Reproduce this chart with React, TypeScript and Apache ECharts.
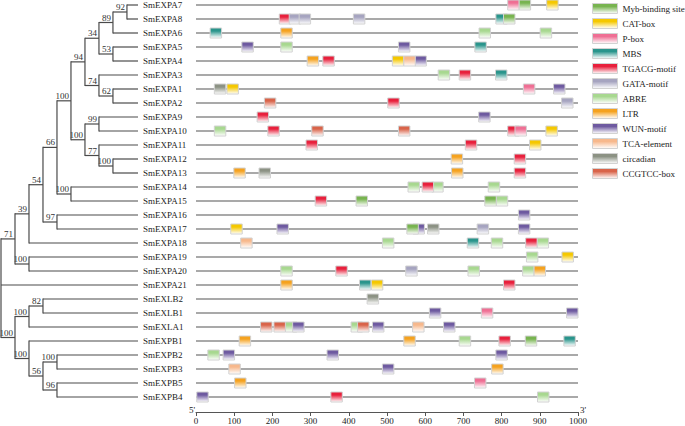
import React, { useEffect, useRef } from "react";
import * as echarts from "echarts";

const FONT = "'Liberation Serif', 'Times New Roman', serif";

// Phylogenetic tree (Newick, bootstrap values on internal nodes)
const treeNewick =
  "((((((((((SmEXPA7,SmEXPA8)92,SmEXPA6)89,(SmEXPA5,SmEXPA4)53)34,(SmEXPA3,(SmEXPA1,SmEXPA2)62)74)94," +
  "((SmEXPA9,SmEXPA10)99,(SmEXPA11,(SmEXPA12,SmEXPA13)100)77)100)100,(SmEXPA14,SmEXPA15)100)66," +
  "(SmEXPA16,SmEXPA17)97)54,SmEXPA18)39,(SmEXPA19,SmEXPA20)100)71,SmEXPA21," +
  "(((SmEXLB2,SmEXLB1)82,SmEXLA1)100,(SmEXPB1,((SmEXPB2,SmEXPB3)100,(SmEXPB5,SmEXPB4)96)56)100)100);";

const genes = [
  "SmEXPA7", "SmEXPA8", "SmEXPA6", "SmEXPA5", "SmEXPA4", "SmEXPA3", "SmEXPA1", "SmEXPA2",
  "SmEXPA9", "SmEXPA10", "SmEXPA11", "SmEXPA12", "SmEXPA13", "SmEXPA14", "SmEXPA15",
  "SmEXPA16", "SmEXPA17", "SmEXPA18", "SmEXPA19", "SmEXPA20", "SmEXPA21", "SmEXLB2",
  "SmEXLB1", "SmEXLA1", "SmEXPB1", "SmEXPB2", "SmEXPB3", "SmEXPB5", "SmEXPB4",
];

const geneLengths = [
  1000, 1000, 1000, 1000, 1000, 1000, 1000, 1000, 1000, 1000, 1000, 1000, 1000, 1000, 1000,
  1000, 1000, 1000, 1000, 1000, 1000, 1000, 1000, 1000, 1000, 1000, 1000, 1000, 1000,
];

const motifs = [
  "Myb-binding site", "CAT-box", "P-box", "MBS", "TGACG-motif", "GATA-motif",
  "ABRE", "LTR", "WUN-motif", "TCA-element", "circadian", "CCGTCC-box",
];
const motifColors = [
  "#78b450", "#f5c800", "#ef6f94", "#2a958c", "#e8203c", "#a6a4c0",
  "#a8d890", "#f5a21f", "#6e5aa0", "#f7b88c", "#8c9284", "#d9644a",
];

// [gene, start position]
const mybSites: [string, number][] = [
  ["SmEXPA7", 846], ["SmEXPA8", 805], ["SmEXPA15", 419], ["SmEXPA15", 756], ["SmEXPA17", 552], ["SmEXPB1", 862],
];
const catSites: [string, number][] = [
  ["SmEXPA7", 918], ["SmEXPA1", 81], ["SmEXPA4", 514], ["SmEXPA10", 916], ["SmEXPA11", 873],
  ["SmEXPA17", 91], ["SmEXPA19", 958], ["SmEXPA21", 459],
];
const pboxSites: [string, number][] = [
  ["SmEXPA7", 816], ["SmEXPA1", 857], ["SmEXPA10", 835], ["SmEXLB1", 747], ["SmEXPB5", 729],
];
const mbsSites: [string, number][] = [
  ["SmEXPA8", 785], ["SmEXPA6", 37], ["SmEXPA5", 730], ["SmEXPA3", 784], ["SmEXPA18", 710],
  ["SmEXPA21", 428], ["SmEXPB1", 963],
];
const tgacgSites: [string, number][] = [
  ["SmEXPA8", 218], ["SmEXPA4", 332], ["SmEXPA3", 689], ["SmEXPA2", 502], ["SmEXPA9", 160],
  ["SmEXPA10", 188], ["SmEXPA10", 816], ["SmEXPA11", 288], ["SmEXPA11", 705], ["SmEXPA12", 833],
  ["SmEXPA13", 833], ["SmEXPA14", 592], ["SmEXPA15", 312], ["SmEXPA18", 863], ["SmEXPA20", 366],
  ["SmEXPA21", 805], ["SmEXPB1", 793], ["SmEXPB4", 353],
];
const gataSites: [string, number][] = [
  ["SmEXPA8", 244], ["SmEXPA8", 270], ["SmEXPA8", 412], ["SmEXPA2", 957], ["SmEXPA17", 736], ["SmEXPA20", 549],
];
const abreSites: [string, number][] = [
  ["SmEXPA6", 741], ["SmEXPA6", 901], ["SmEXPA5", 222], ["SmEXPA3", 634], ["SmEXPA10", 48],
  ["SmEXPA14", 555], ["SmEXPA14", 617], ["SmEXPA14", 765], ["SmEXPA15", 786], ["SmEXPA18", 488],
  ["SmEXPA18", 773], ["SmEXPA18", 893], ["SmEXPA19", 865], ["SmEXPA20", 222], ["SmEXPA20", 712],
  ["SmEXPA20", 855], ["SmEXLA1", 234], ["SmEXLA1", 406], ["SmEXPB1", 689], ["SmEXPB2", 31], ["SmEXPB4", 894],
];
const ltrSites: [string, number][] = [
  ["SmEXPA6", 222], ["SmEXPA4", 291], ["SmEXPA12", 668], ["SmEXPA13", 99], ["SmEXPA13", 669],
  ["SmEXPA20", 885], ["SmEXPA21", 222], ["SmEXPB1", 113], ["SmEXPB1", 544], ["SmEXPB3", 774], ["SmEXPB5", 101],
];
const wunSites: [string, number][] = [
  ["SmEXPA5", 120], ["SmEXPA5", 530], ["SmEXPA4", 573], ["SmEXPA1", 936], ["SmEXPA9", 740],
  ["SmEXPA16", 844], ["SmEXPA17", 212], ["SmEXPA17", 568], ["SmEXPA17", 844], ["SmEXLB1", 611],
  ["SmEXLB1", 970], ["SmEXLA1", 253], ["SmEXLA1", 462], ["SmEXLA1", 648], ["SmEXPB2", 71],
  ["SmEXPB2", 343], ["SmEXPB2", 785], ["SmEXPB3", 488], ["SmEXPB4", 2],
];
const tcaSites: [string, number][] = [
  ["SmEXPA4", 544], ["SmEXPA18", 117], ["SmEXLA1", 567], ["SmEXPB3", 86],
];
const circadianSites: [string, number][] = [
  ["SmEXPA1", 48], ["SmEXPA13", 165], ["SmEXPA17", 606], ["SmEXLB2", 448],
];
const ccgtccSites: [string, number][] = [
  ["SmEXPA2", 179], ["SmEXPA10", 303], ["SmEXPA10", 530], ["SmEXLA1", 169], ["SmEXLA1", 204], ["SmEXLA1", 423],
];

const motifSites: Record<string, [string, number][]> = {
  "Myb-binding site": mybSites,
  "CAT-box": catSites,
  "P-box": pboxSites,
  MBS: mbsSites,
  "TGACG-motif": tgacgSites,
  "GATA-motif": gataSites,
  ABRE: abreSites,
  LTR: ltrSites,
  "WUN-motif": wunSites,
  "TCA-element": tcaSites,
  circadian: circadianSites,
  "CCGTCC-box": ccgtccSites,
};

// drawing order (bottom to top) so overlapping boxes stack as in the figure
const drawOrder = [
  "ABRE", "MBS", "TGACG-motif", "WUN-motif", "GATA-motif", "P-box", "Myb-binding site",
  "CCGTCC-box", "CAT-box", "LTR", "TCA-element", "circadian",
];

const BOX_W = 30; // motif box width in bp-units
const LEAF_DEPTH = 9.79;

type TNode = { name?: string; support?: number; children: TNode[] };

function parseNewick(s: string): TNode {
  let i = 0;
  function node(): TNode {
    const n: TNode = { children: [] };
    if (s[i] === "(") {
      i++;
      n.children.push(node());
      while (s[i] === ",") {
        i++;
        n.children.push(node());
      }
      i++;
    }
    let tok = "";
    while (i < s.length && !",();".includes(s[i])) tok += s[i++];
    if (n.children.length) {
      if (tok) n.support = Number(tok);
    } else n.name = tok;
    return n;
  }
  return node();
}

function buildTreeItems(): number[][] {
  const items: number[][] = [];
  const root = parseNewick(treeNewick);
  function layout(n: TNode, depth: number, parentDepth: number): number {
    if (!n.children.length) {
      const y = genes.indexOf(n.name as string);
      items.push([LEAF_DEPTH, y, parentDepth, y, y, -1]);
      return y;
    }
    const ys = n.children.map((c) => layout(c, depth + 1, depth));
    const y = (ys[0] + ys[ys.length - 1]) / 2;
    items.push([depth, y, parentDepth, Math.min(...ys), Math.max(...ys), n.support ?? -1]);
    return y;
  }
  layout(root, 0, 0);
  return items;
}

function boxGradient(c: string) {
  return new echarts.graphic.LinearGradient(0, 0, 0, 1, [
    { offset: 0, color: c },
    { offset: 0.3, color: c },
    { offset: 1, color: "#ffffff" },
  ]);
}

export default function App() {
  const ref = useRef<HTMLDivElement>(null);

  useEffect(() => {
    if (!ref.current) return;
    const chart = echarts.init(ref.current, undefined, { renderer: "svg" });
    const treeItems = buildTreeItems();

    const boxSeries = drawOrder.map((m, k) => {
      const idx = motifs.indexOf(m);
      return {
        name: m,
        type: "custom",
        xAxisIndex: 0,
        yAxisIndex: 0,
        z: 3,
        itemStyle: { color: boxGradient(motifColors[idx]), borderColor: "#d2d2d2", borderWidth: 1 },
        data: motifSites[m].map(([g, p]) => [p, genes.indexOf(g)]),
        renderItem: (params: any, api: any) => {
          const s = api.value(0);
          const row = api.value(1);
          const p0 = api.coord([s, row]);
          const p1 = api.coord([s + BOX_W, row]);
          return {
            type: "rect",
            z2: k,
            shape: { x: p0[0], y: p0[1] - 5, width: p1[0] - p0[0], height: 10 },
            style: { fill: boxGradient(motifColors[idx]), stroke: "#d2d2d2", lineWidth: 1 },
          };
        },
      };
    });

    const option: any = {
      animation: false,
      backgroundColor: "#ffffff",
      textStyle: { fontFamily: FONT },
      grid: [
        { left: 196, right: 107, top: 5, height: 392 },
        { left: 1, top: 5, width: 137, height: 392 },
      ],
      xAxis: [
        {
          type: "value",
          gridIndex: 0,
          min: 0,
          max: 1000,
          interval: 100,
          offset: 15,
          splitLine: { show: false },
          axisLine: { show: true, lineStyle: { color: "#555", width: 1 } },
          axisTick: { show: true, length: 4, lineStyle: { color: "#555" } },
          axisLabel: {
            fontFamily: FONT,
            fontSize: 9,
            color: "#222",
            margin: 4,
            formatter: (v: number) => String(v),
          },
        },
        { type: "value", gridIndex: 1, min: 0, max: LEAF_DEPTH, show: false },
      ],
      yAxis: [
        {
          type: "category",
          gridIndex: 0,
          data: genes,
          inverse: true,
          boundaryGap: false,
          axisLine: { show: false },
          axisTick: { show: false },
          splitLine: { show: false },
          axisLabel: { interval: 0, align: "left", margin: 53, fontFamily: FONT, fontSize: 9, color: "#222" },
        },
        { type: "value", gridIndex: 1, min: 0, max: 28, inverse: true, show: false },
      ],
      legend: {
        data: motifs,
        orient: "vertical",
        left: 592,
        top: 3,
        padding: 0,
        itemGap: 4,
        itemWidth: 25,
        itemHeight: 10,
        icon: "rect",
        selectedMode: false,
        itemStyle: { borderColor: "#d2d2d2", borderWidth: 1 },
        textStyle: { fontFamily: FONT, fontSize: 9, color: "#222", lineHeight: 10 },
      },
      graphic: [
        { type: "text", x: 195, y: 410, style: { text: "5'", font: `9px ${FONT}`, fill: "#222", align: "right", verticalAlign: "middle" } },
        { type: "text", x: 580, y: 410, style: { text: "3'", font: `9px ${FONT}`, fill: "#222", align: "left", verticalAlign: "middle" } },
      ],
      series: [
        {
          name: "genes",
          type: "custom",
          xAxisIndex: 0,
          yAxisIndex: 0,
          z: 2,
          data: genes.map((g, i) => [geneLengths[i], i]),
          renderItem: (params: any, api: any) => {
            const len = api.value(0);
            const row = api.value(1);
            const a = api.coord([0, row]);
            const b = api.coord([len, row]);
            return {
              type: "line",
              shape: { x1: a[0], y1: a[1], x2: b[0], y2: b[1] },
              style: { stroke: "#8c8c8c", lineWidth: 1.6 },
            };
          },
        },
        {
          name: "tree",
          type: "custom",
          xAxisIndex: 1,
          yAxisIndex: 1,
          data: treeItems,
          renderItem: (params: any, api: any) => {
            const d = api.value(0);
            const y = api.value(1);
            const pd = api.value(2);
            const y0 = api.value(3);
            const y1 = api.value(4);
            const sup = api.value(5);
            const p = api.coord([d, y]);
            const pp = api.coord([pd, y]);
            const top = api.coord([d, y0]);
            const bot = api.coord([d, y1]);
            const ls = { stroke: "#4a4a4a", lineWidth: 1.2 };
            const children: any[] = [];
            if (pd !== d) children.push({ type: "line", shape: { x1: pp[0], y1: p[1], x2: p[0], y2: p[1] }, style: ls });
            if (y0 !== y1) children.push({ type: "line", shape: { x1: p[0], y1: top[1] - 0.6, x2: p[0], y2: bot[1] + 0.6 }, style: ls });
            if (sup >= 0)
              children.push({
                type: "text",
                x: p[0] - 2,
                y: p[1] - 0.5,
                style: { text: String(sup), font: `9px ${FONT}`, fill: "#333", align: "right", verticalAlign: "bottom" },
              });
            return { type: "group", children };
          },
        },
        ...boxSeries,
      ],
    };

    chart.setOption(option);
    return () => chart.dispose();
  }, []);

  return <div ref={ref} style={{ position: "fixed", left: 0, top: 0, width: 685, height: 426 }} />;
}
